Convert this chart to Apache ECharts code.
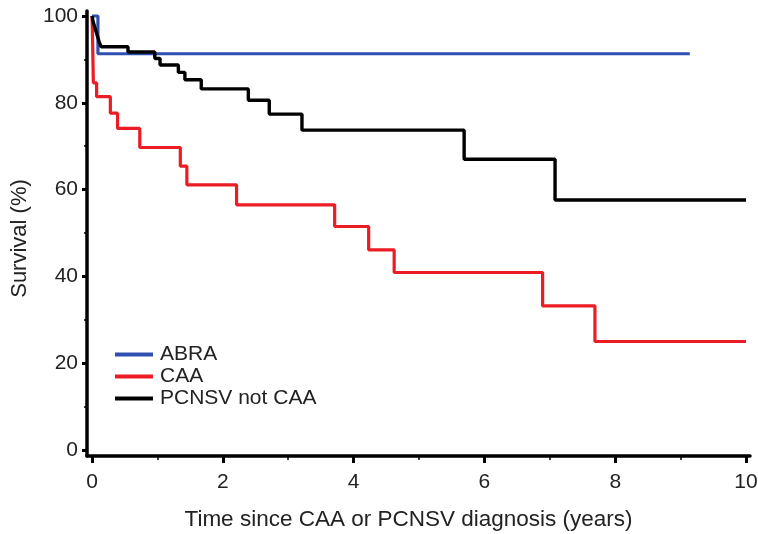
<!DOCTYPE html>
<html>
<head>
<meta charset="utf-8">
<script src="https://cdn.jsdelivr.net/npm/echarts@6/dist/echarts.min.js"></script>
<style>
  html, body { margin: 0; padding: 0; background: #fff; }
  #chart { width: 758px; height: 534px; }
</style>
</head>
<body>
<div id="chart"></div>
<script>
// tick labels
const xTicks = [0, 2, 4, 6, 8, 10];
const xMinorTicks = [1, 3, 5, 7, 9];
const yTicks = [0, 20, 40, 60, 80, 100];
const yMinorTicks = [10, 30, 50, 70, 90];

// ABRA
const abraTime = [0, 0.09, 9.14];
const abraSurv = [100, 91.3, 91.3];

// CAA
const caaTime = [0, 0.005, 0.01, 0.015, 0.02, 0.07, 0.28, 0.39, 0.73, 1.35, 1.45, 2.21, 3.71, 4.23, 4.62, 6.89, 7.69, 10];
const caaSurv = [100, 97, 93, 89, 84.6, 81.4, 77.6, 74.1, 69.7, 65.4, 61.1, 56.5, 51.5, 46.1, 40.9, 33.2, 25.0, 25.0];

// PCNSV not CAA
const pcnsvTime = [0, 0.02, 0.05, 0.08, 0.11, 0.14, 0.55, 0.96, 1.04, 1.32, 1.42, 1.67, 2.39, 2.71, 3.21, 5.69, 7.08, 10];
const pcnsvSurv = [100, 98.5, 97, 95.5, 94, 92.9, 91.7, 90.2, 88.7, 87.0, 85.3, 83.2, 80.6, 77.4, 73.7, 67.0, 57.6, 57.6];

const pairs = (t, s) => t.map((v, i) => [v, s[i]]);

const font = '"Liberation Sans", Arial, sans-serif';
const textColor = '#222';

const chart = echarts.init(document.getElementById('chart'));

chart.setOption({
  animation: false,
  grid: { left: 87, right: 8, top: 11, bottom: 78, outerBoundsMode: 'none' },
  legend: {
    orient: 'vertical',
    left: 115,
    top: 344,
    padding: 0,
    icon: 'rect',
    itemWidth: 38,
    itemHeight: 4,
    itemGap: 1,
    selectedMode: false,
    textStyle: { fontFamily: font, fontSize: 21, color: textColor, lineHeight: 20, padding: [0, 0, 0, 2] },
    data: ['ABRA', 'CAA', 'PCNSV not CAA']
  },
  xAxis: [
    {
      type: 'value',
      min: -0.077,
      max: 10.061,
      name: 'Time since CAA or PCNSV diagnosis (years)',
      nameLocation: 'middle',
      nameGap: 52,
      nameTextStyle: { fontFamily: font, fontSize: 22.5, color: textColor, padding: [0, 20, 0, 0] },
      splitLine: { show: false },
      axisLine: { onZero: false, lineStyle: { color: '#000', width: 3.5 } },
      axisTick: { customValues: xTicks, length: 7, lineStyle: { color: '#000', width: 3 } },
      axisLabel: { customValues: xTicks, margin: 16, fontFamily: font, fontSize: 21, color: textColor }
    },
    {
      type: 'value',
      min: -0.077,
      max: 10.061,
      position: 'bottom',
      splitLine: { show: false },
      axisLine: { show: false, onZero: false },
      axisTick: { customValues: xMinorTicks, length: 4, lineStyle: { color: '#000', width: 1.5 } },
      axisLabel: { show: false }
    }
  ],
  yAxis: [
    {
      type: 'value',
      min: -1.38,
      max: 101.15,
      name: 'Survival (%)',
      nameLocation: 'middle',
      nameGap: 56,
      nameTextStyle: { fontFamily: font, fontSize: 22, color: textColor, padding: [0, 10, 0, 0] },
      splitLine: { show: false },
      axisLine: { show: true, onZero: false, lineStyle: { color: '#000', width: 3.5 } },
      axisTick: { show: true, customValues: yTicks, length: 5, lineStyle: { color: '#000', width: 3 } },
      axisLabel: { customValues: yTicks, margin: 9, fontFamily: font, fontSize: 21, color: textColor }
    },
    {
      type: 'value',
      min: -1.38,
      max: 101.15,
      position: 'left',
      splitLine: { show: false },
      axisLine: { show: false, onZero: false },
      axisTick: { show: true, customValues: yMinorTicks, length: 3, lineStyle: { color: '#000', width: 1.5 } },
      axisLabel: { show: false }
    }
  ],
  series: [
    {
      name: 'ABRA',
      type: 'line',
      step: 'end',
      showSymbol: false,
      color: '#3050b0',
      lineStyle: { width: 3.2 },
      data: pairs(abraTime, abraSurv)
    },
    {
      name: 'CAA',
      type: 'line',
      step: 'end',
      showSymbol: false,
      color: '#ec1c24',
      lineStyle: { width: 3.2 },
      data: pairs(caaTime, caaSurv)
    },
    {
      name: 'PCNSV not CAA',
      type: 'line',
      step: 'end',
      showSymbol: false,
      color: '#000',
      lineStyle: { width: 3.4 },
      data: pairs(pcnsvTime, pcnsvSurv)
    }
  ]
});
</script>
</body>
</html>
